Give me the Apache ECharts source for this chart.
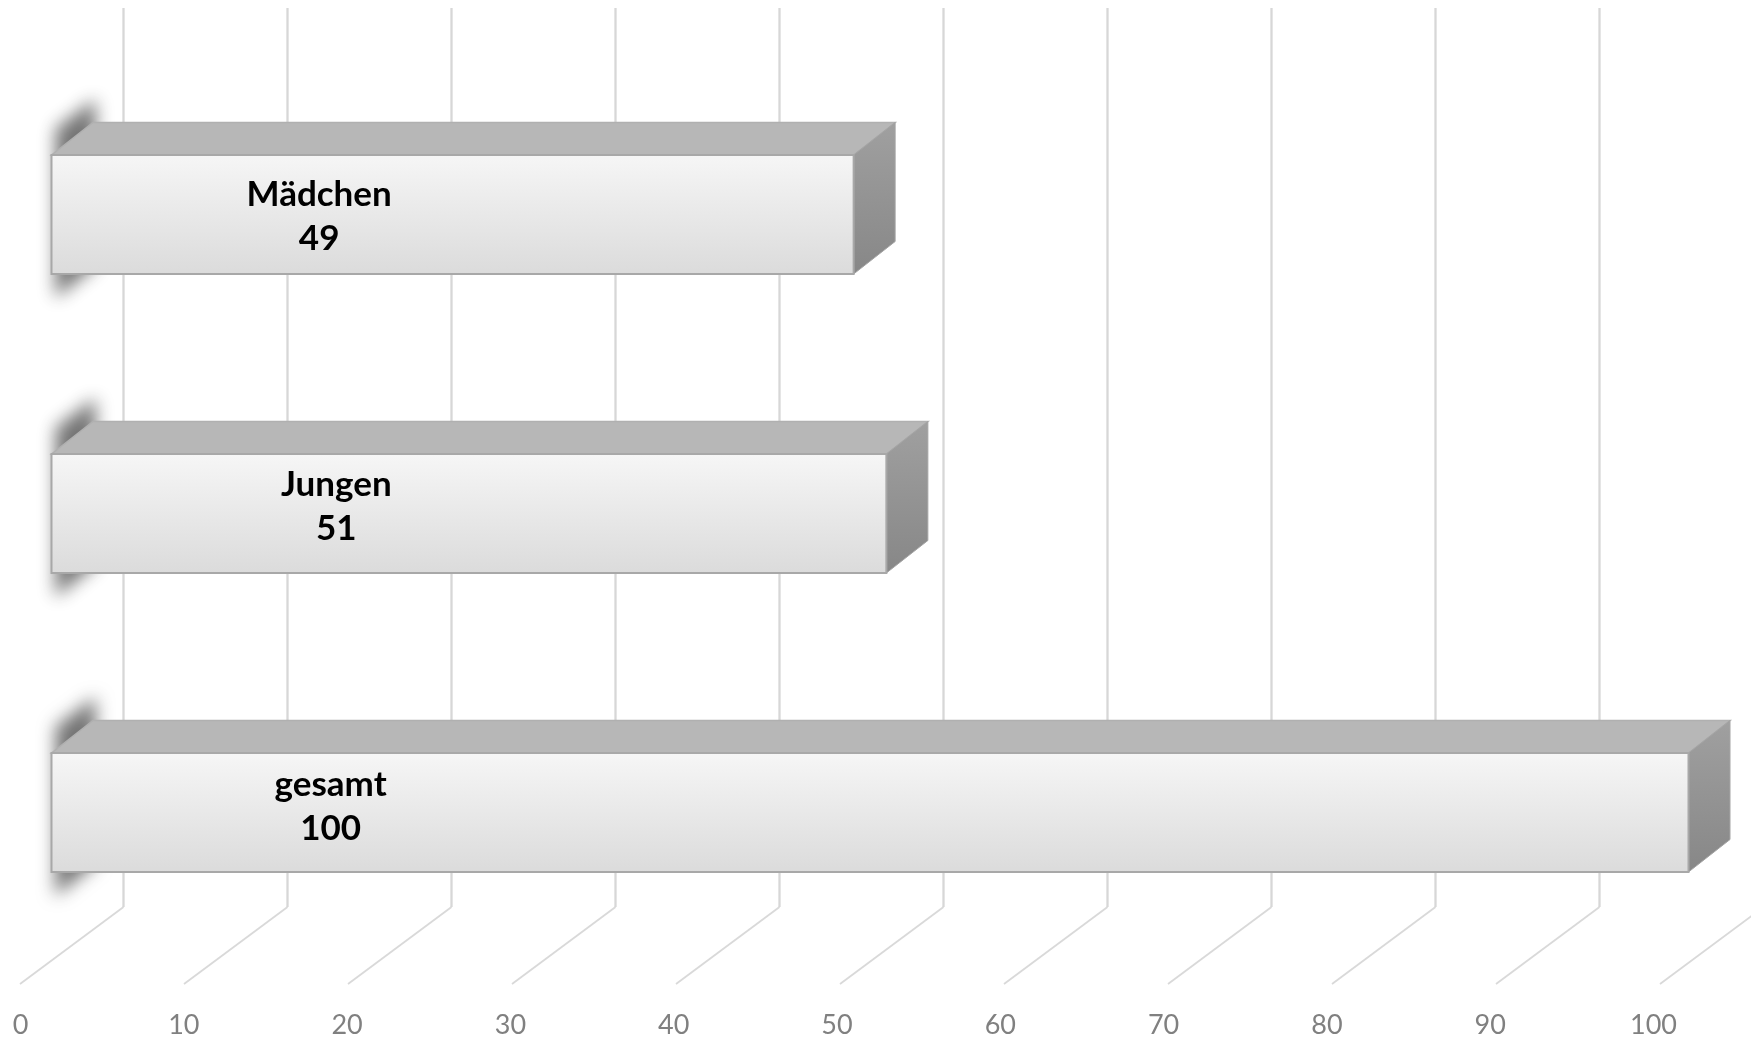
<!DOCTYPE html>
<html>
<head>
<meta charset="utf-8">
<style>html,body{margin:0;padding:0;background:#fff}#c{width:1751px;height:1040px}</style>
<script src="https://cdn.jsdelivr.net/npm/echarts@6/dist/echarts.min.js"></script>
</head>
<body>
<div id="c"></div>
<script>
const categories = ['gesamt', 'Jungen', 'Mädchen'];
const values = [100, 51, 49];
const ticks = [0, 10, 20, 30, 40, 50, 60, 70, 80, 90, 100];
// label anchor along the value axis (in value units) and vertical nudge (px)
const labelAnchors = [17.05, 17.4, 16.35];
const labelNudge = [-5.5, -6, 2.5];

const FONT = 'Lato, "Open Sans", sans-serif';
const chart = echarts.init(document.getElementById('c'), null, { renderer: 'canvas' });

function renderWall(params, api) {
  const v = api.value(0);
  const floor = api.coord([v, 0]);
  const top = api.coord([v, 1]);
  const backX = floor[0] + 103.5, backY = floor[1] - 77;
  return {
    type: 'group',
    children: [
      { type: 'line', shape: { x1: floor[0], y1: floor[1], x2: backX, y2: backY },
        style: { stroke: '#d9d9d9', lineWidth: 1.8 } },
      { type: 'line', shape: { x1: backX, y1: backY, x2: backX, y2: top[1] },
        style: { stroke: '#d7d7d7', lineWidth: 2.3 } }
    ]
  };
}

function renderBar(params, api) {
  const idx = api.value(1);
  const base = api.coord([0, idx]);
  const end = api.coord([api.value(0), idx]);
  const h = api.size([0, 1])[1] * 0.398;
  const x0 = base[0], x1 = end[0];
  const y0 = base[1] - h / 2, y1 = base[1] + h / 2;
  const dx = 41.5, dy = 32.5, away = 4000;
  const anchor = api.coord([labelAnchors[idx], idx]);
  return {
    type: 'group',
    children: [
      { type: 'polygon',
        shape: { points: [
          [x0 + 4 - away, y0 - 26], [x0 + 44 - away, y0 - 56],
          [x0 + 44 - away, y1 - 8], [x0 + 4 - away, y1 + 24]] },
        style: { fill: '#000', shadowColor: 'rgba(100,100,100,0.9)', shadowBlur: 17, shadowOffsetX: away, shadowOffsetY: 0 } },
      { type: 'polygon',
        shape: { points: [[x0, y0], [x0 + dx, y0 - dy], [x1 + dx, y0 - dy], [x1, y0]] },
        style: { fill: '#b7b7b7', stroke: '#b0b0b0', lineWidth: 1.5 } },
      { type: 'polygon',
        shape: { points: [[x1, y0], [x1 + dx, y0 - dy], [x1 + dx, y1 - dy], [x1, y1]] },
        style: {
          fill: new echarts.graphic.LinearGradient(0, 0, 0, 1, [
            { offset: 0, color: '#a0a0a0' }, { offset: 1, color: '#878787' }]),
          stroke: '#a4a4a4', lineWidth: 1 } },
      { type: 'rect',
        shape: { x: x0, y: y0, width: x1 - x0, height: y1 - y0 },
        style: {
          fill: new echarts.graphic.LinearGradient(0, 0, 0, 1, [
            { offset: 0, color: '#f6f6f6' }, { offset: 1, color: '#dbdbdb' }]),
          stroke: '#a8a8a8', lineWidth: 2 } },
      { type: 'text',
        style: {
          x: anchor[0], y: base[1] - 0.5 + labelNudge[idx],
          text: categories[idx] + '\n' + api.value(0),
          fill: '#000', font: 'bold 35px ' + FONT,
          align: 'center', verticalAlign: 'middle', lineHeight: 44 } }
    ]
  };
}

chart.setOption({
  animation: false,
  backgroundColor: '#ffffff',
  grid: [
    { left: 20, top: 8, width: 1640, height: 976 },
    { left: 51.5, top: 65, width: 1637, height: 897 },
    { left: 20.5, top: 8, width: 1633, height: 976 }
  ],
  xAxis: [
    { type: 'value', gridIndex: 0, min: 0, max: 100, interval: 10, show: false },
    { type: 'value', gridIndex: 1, min: 0, max: 100, interval: 10, show: false },
    { type: 'value', gridIndex: 2, min: 0, max: 100, interval: 10,
      axisLine: { show: false }, axisTick: { show: false }, splitLine: { show: false },
      axisLabel: { color: '#808080', fontFamily: FONT, fontSize: 27, margin: 28, showMinLabel: true, showMaxLabel: true } }
  ],
  yAxis: [
    { type: 'value', gridIndex: 0, min: 0, max: 1, show: false },
    { type: 'category', gridIndex: 1, data: categories, show: false },
    { type: 'value', gridIndex: 2, min: 0, max: 1, show: false }
  ],
  series: [
    { type: 'custom', name: 'Gitter', xAxisIndex: 0, yAxisIndex: 0, z: 1, clip: false, silent: true,
      data: ticks.map(t => [t]), encode: { x: 0 }, renderItem: renderWall },
    { type: 'custom', name: 'Anzahl', xAxisIndex: 1, yAxisIndex: 1, z: 2, clip: false, silent: true,
      data: values.map((v, i) => [v, i]), encode: { x: 0, y: 1 }, renderItem: renderBar }
  ]
});
</script>
</body>
</html>
